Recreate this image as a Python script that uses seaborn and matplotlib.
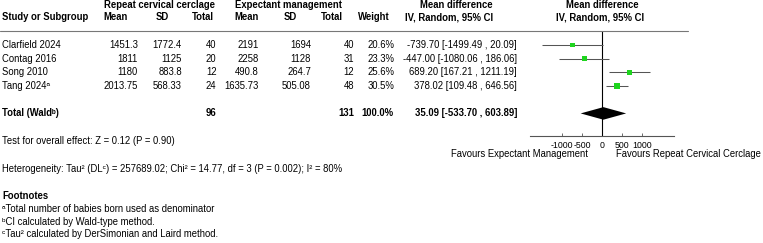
import matplotlib
matplotlib.use("Agg")
import matplotlib.pyplot as plt
import seaborn as sns
import pandas as pd
from matplotlib.lines import Line2D

# =========================
# Data
# =========================
studies = ["Clarfield 2024", "Contag 2016", "Song 2010", "Tang 2024ᵃ"]
rcc_mean = [1451.3, 1811, 1180, 2013.75]
rcc_sd = [1772.4, 1125, 883.8, 568.33]
rcc_n = [40, 20, 12, 24]
em_mean = [2191, 2258, 490.8, 1635.73]
em_sd = [1694, 1128, 264.7, 505.08]
em_n = [40, 31, 12, 48]
weight = [20.6, 23.3, 25.6, 30.5]
md = [-739.70, -447.00, 689.20, 378.02]
ci_lo = [-1499.49, -1080.06, 167.21, 109.48]
ci_hi = [20.09, 186.06, 1211.19, 646.56]

total_rcc_n = 96
total_em_n = 131
total_weight = 100.0
total_md = 35.09
total_lo = -533.70
total_hi = 603.89

x_ticks = [-1000, -500, 0, 500, 1000]
overall_text = "Test for overall effect: Z = 0.12 (P = 0.90)"
het_text = "Heterogeneity: Tau² (DLᶜ) = 257689.02; Chi² = 14.77, df = 3 (P = 0.002); I² = 80%"
footnotes = [
    "ᵃTotal number of babies born used as denominator",
    "ᵇCI calculated by Wald-type method.",
    "ᶜTau² calculated by DerSimonian and Laird method.",
]

# =========================
# Style
# =========================
sns.set_theme(style="white")
plt.rcParams.update({
    "font.family": ["Liberation Sans", "DejaVu Sans"],
    "font.size": 6.85,
})
FS = 6.85
W, H = 763, 243

fig = plt.figure(figsize=(W / 100, H / 100), dpi=100)


def ftext(x, y, s, ha="left", bold=False, **kw):
    fig.text(x / W, 1 - y / H, s, ha=ha, va="center", fontsize=FS,
             fontweight="bold" if bold else "normal", color="black", **kw)


def fmt(v):
    return f"{v:g}"


def ci_str(m, lo, hi):
    return f"{m:.2f} [{lo:.2f} , {hi:.2f}]"


# =========================
# Table headers
# =========================
ftext(159, 5, "Repeat cervical cerclage", ha="center", bold=True)
ftext(288, 5, "Expectant management", ha="center", bold=True)
ftext(456, 5, "Mean difference", ha="center", bold=True)
ftext(602, 5, "Mean difference", ha="center", bold=True)

ftext(2, 17.5, "Study or Subgroup", bold=True)
ftext(128, 17.5, "Mean", ha="right", bold=True)
ftext(162, 17.5, "SD", ha="center", bold=True)
ftext(214, 17.5, "Total", ha="right", bold=True)
ftext(259, 17.5, "Mean", ha="right", bold=True)
ftext(290, 17.5, "SD", ha="center", bold=True)
ftext(343, 17.5, "Total", ha="right", bold=True)
ftext(374, 17.5, "Weight", ha="center", bold=True)
ftext(449, 17.5, "IV, Random, 95% CI", ha="center", bold=True)
ftext(600, 17.5, "IV, Random, 95% CI", ha="center", bold=True)

fig.add_artist(Line2D([0, 688 / W], [1 - 30.7 / H] * 2, color="#777777", lw=0.8))

# =========================
# Table rows
# =========================
row_px = 45
row_step = 13.67
for i in range(len(studies)):
    y = row_px + i * row_step
    ftext(2, y, studies[i])
    ftext(138, y, fmt(rcc_mean[i]), ha="right")
    ftext(182, y, fmt(rcc_sd[i]), ha="right")
    ftext(216.5, y, str(rcc_n[i]), ha="right")
    ftext(259, y, fmt(em_mean[i]), ha="right")
    ftext(311, y, fmt(em_sd[i]), ha="right")
    ftext(354, y, str(em_n[i]), ha="right")
    ftext(394, y, f"{weight[i]:.1f}%", ha="right")
    ftext(517, y, ci_str(md[i], ci_lo[i], ci_hi[i]), ha="right")

ty = row_px + 5 * row_step
ftext(2, ty, "Total (Waldᵇ)", bold=True)
ftext(216.5, ty, str(total_rcc_n), ha="right", bold=True)
ftext(354, ty, str(total_em_n), ha="right", bold=True)
ftext(394, ty, f"{total_weight:.1f}%", ha="right", bold=True)
ftext(517, ty, ci_str(total_md, total_lo, total_hi), ha="right", bold=True)

ftext(2, 141, overall_text)
ftext(2, 168.5, het_text)
ftext(2, 196, "Footnotes", bold=True)
for k, s in enumerate(footnotes):
    ftext(2, 209 + k * 12.7, s)

# =========================
# Forest plot panel
# =========================
ax_left, ax_right = 530.4, 673.6
ax_top, ax_bot = 30.7, 135.7
ax = fig.add_axes([ax_left / W, 1 - ax_bot / H, (ax_right - ax_left) / W, (ax_bot - ax_top) / H])
ax.set_facecolor("none")

df = pd.DataFrame({"row": range(len(studies)), "md": md, "lo": ci_lo, "hi": ci_hi, "w": weight})

ax.hlines(df["row"], df["lo"], df["hi"], color="#555555", lw=0.75, zorder=2)
sns.scatterplot(data=df, x="md", y="row", size="w", sizes=(10, 20),
                marker="s", color="#1ed41e", edgecolor="none", linewidth=0,
                legend=False, ax=ax, zorder=3)

total_row = 5
dh = 0.46
ax.fill([total_lo, total_md, total_hi, total_md],
        [total_row, total_row - dh, total_row, total_row + dh], color="black", lw=0, zorder=3)

ax.axvline(0, color="black", lw=0.8, zorder=1)

ax.set_xlim(-1790, 1790)
ax.set_ylim(6.63, -1.05)
ax.set_yticks([])
ax.set_xticks(x_ticks)
ax.set_xticklabels([str(t) for t in x_ticks])
ax.tick_params(axis="x", direction="in", length=2.5, width=0.6, color="#555555",
               pad=3.5, labelsize=6.3, labelcolor="black", bottom=True)
for side in ["top", "left", "right"]:
    ax.spines[side].set_visible(False)
ax.spines["bottom"].set_color("#555555")
ax.spines["bottom"].set_linewidth(0.8)
ax.set_xlabel("")
ax.set_ylabel("")

ftext(588, 154.3, "Favours Expectant Management", ha="right")
ftext(616, 154.3, "Favours Repeat Cervical Cerclage", ha="left")

fig.savefig("out.png", dpi=100)
plt.close(fig)
